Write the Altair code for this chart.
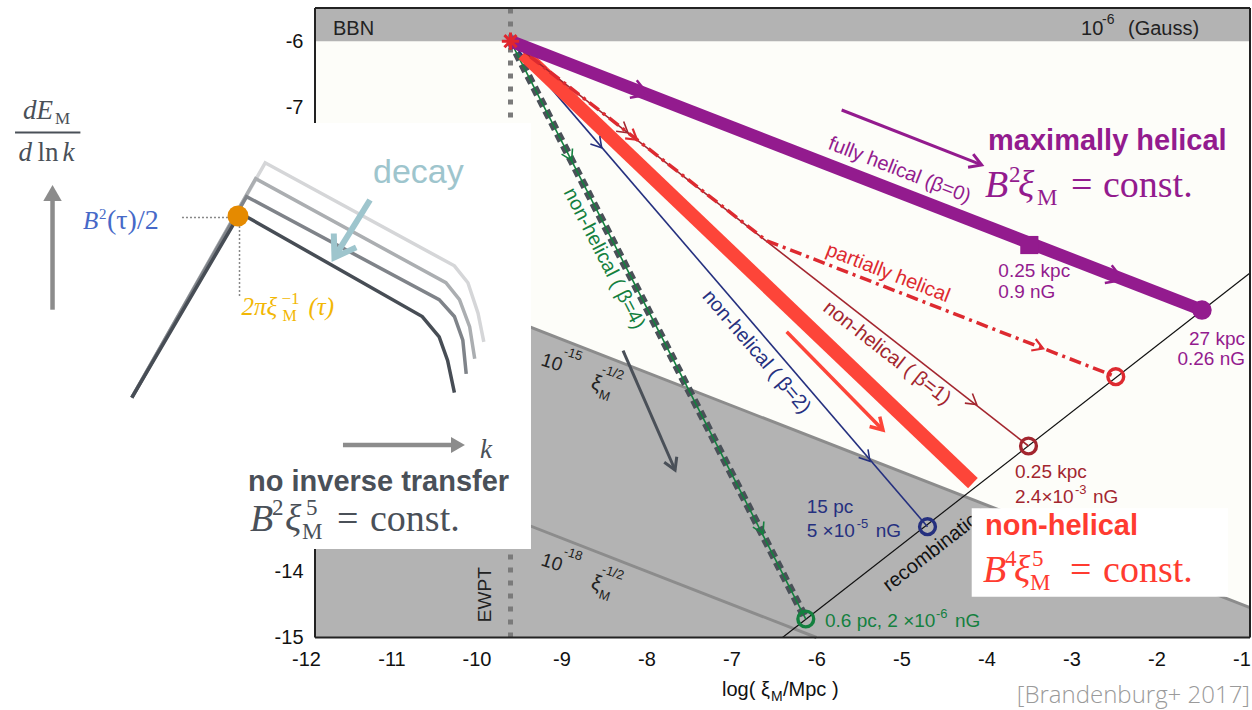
import altair as alt
import pandas as pd

# ---------------- axis frame (log xi_M / Mpc , log B / Gauss) ----------------
x_domain = [-11.9, -0.9]
y_domain = [-15.0, -5.5]
x_ticks = [-11, -10, -9, -8, -7, -6, -5, -4, -3, -2, -1]
x_edge_tick = [-12]
y_ticks = [-15, -14, -7, -6]   # -8 ... -13 lie under the inset panel

# ---------------- evolution tracks ----------------
purple_x = [-9.6, -1.465]
purple_y = [-6.0, -10.058]
red_x = [-9.45, -4.16]
red_y = [-6.19, -12.67]
beta1_x = [-9.6, -3.506]
beta1_y = [-6.0, -12.11]
partial_x = [-9.6, -6.59, -2.479]
partial_y = [-6.0, -9.01, -11.064]
beta2_x = [-9.6, -4.694]
beta2_y = [-6.0, -13.328]
beta4_x = [-9.6, -6.126]
beta4_y = [-6.0, -14.721]
recomb_x = [-6.4, -0.9]
recomb_y = [-15.0, -9.5]
ewpt_x = [-9.6, -9.6]
ewpt_y = [-15.0, -5.5]
bbn_x = [-11.9, -0.9]
bbn_y = [-6.0, -5.5]
b15_x = [-11.9, -0.9]
b15_y = [-9.05, -14.55]
b18_x = [-11.9, -6.0]
b18_y = [-12.05, -15.0]

# end markers
start_pt = [-9.6, -6.0]
sq_pt = [-3.496, -9.077]
fullcirc_pt = [-1.465, -10.058]
open_red = [-2.479, -11.064]
open_darkred = [-3.506, -12.11]
open_navy = [-4.694, -13.328]
open_green = [-6.126, -14.721]

# direction chevrons on tracks
chev_purple_x = [-7.982, -2.394]
chev_purple_y = [-6.809, -9.603]
chev_b1_x = [-8.218, -4.115]
chev_b1_y = [-7.382, -11.485]
chev_part1 = [-8.112, -7.488]
chev_part2 = [-3.335, -10.638]
chev_b2_x = [-8.527, -5.371]
chev_b2_y = [-7.61, -12.34]
chev_b4_x = [-8.88, -6.629]
chev_b4_y = [-7.8, -13.43]

# annotation arrows (start, end)
arr_purple = [-5.704, -7.039, -4.057, -7.869]
arr_red = [-6.351, -10.385, -5.218, -11.869]
arr_slate = [-8.276, -10.672, -7.664, -12.472]

# ---------------- inset: schematic spectra dE/dlnk vs k ----------------
inset_box = [-15.61, -7.236, -9.359, -13.665]
spec1_x = [-14.055, -12.782, -10.638, -10.439, -10.340, -10.260]
spec1_y = [-11.380, -8.594, -10.156, -10.462, -10.818, -11.303]
spec2_x = [-14.055, -12.705, -10.439, -10.260, -10.161, -10.121]
spec2_y = [-11.380, -8.346, -9.901, -10.156, -10.512, -11.022]
spec3_x = [-14.055, -12.598, -10.360, -10.200, -10.081, -10.021]
spec3_y = [-11.380, -8.075, -9.646, -9.901, -10.308, -10.793]
spec4_x = [-14.055, -12.486, -10.260, -10.101, -9.982, -9.914]
spec4_y = [-11.380, -7.836, -9.391, -9.646, -10.105, -10.538]
peak_pt = [-12.806, -8.639]

# ---------------- colours / fonts ----------------
PURPLE = "#931b8e"
RED = "#fd4539"
CRIMSON = "#dd2a30"
DARKRED = "#a3262f"
NAVY = "#25307f"
GREEN = "#14803f"
SLATE = "#4a5058"
GRAYFILL = "#b3b3b3"
GRAYLINE = "#8c8c8c"
SANS = "Liberation Sans"
SERIF = "Liberation Serif"

XS = alt.Scale(domain=x_domain, nice=False, zero=False)
YS = alt.Scale(domain=y_domain, nice=False, zero=False)
XAXIS = alt.Axis(values=x_ticks, title=None, grid=False, domain=False, ticks=False, tickSize=0,
                 labelPadding=12, labelFontSize=20, labelFont=SANS, labelColor="#111",
                 labelExpr="'' + datum.value", labelFlush=False, labelOverlap=False,
                 labelBound=False, zindex=0)
YAXIS = alt.Axis(values=y_ticks, title=None, grid=False, domain=False, ticks=False, tickSize=0,
                 labelPadding=12, labelFontSize=20, labelFont=SANS, labelColor="#111",
                 labelExpr="'' + datum.value", labelFlush=False, labelOverlap=False,
                 labelBound=False, zindex=0)


def ex(f="x"):
    return alt.X(f"{f}:Q", scale=XS, axis=XAXIS)


def ey(f="y"):
    return alt.Y(f"{f}:Q", scale=YS, axis=YAXIS)


def line(xv, yv, color, width, dash=None, cap="butt"):
    df = pd.DataFrame({"x": xv, "y": yv, "i": list(range(len(xv)))})
    kw = dict(color=color, strokeWidth=width, strokeCap=cap, clip=False)
    if dash:
        kw["strokeDash"] = dash
    return alt.Chart(df).mark_line(**kw).encode(x=ex(), y=ey(), order="i:Q")


def seg(a, color, width, dash=None, cap="butt"):
    return line([a[0], a[2]], [a[1], a[3]], color, width, dash, cap)


def pts(xv, yv, shape, color, size, filled=True, sw=1.0, angle=0):
    df = pd.DataFrame({"x": xv, "y": yv})
    return alt.Chart(df).mark_point(shape=shape, size=size, filled=filled, color=color,
                                    opacity=1, strokeWidth=sw, angle=angle,
                                    clip=False).encode(x=ex(), y=ey())


CHEV = "M-1,-0.6L0,0L-1,0.6"


def chev(xv, yv, color, angle, size=420, sw=1.6):
    return pts(xv, yv, CHEV, color, size, filled=False, sw=sw, angle=angle)


def txt(s, x, y, color, size, font=SANS, align="left", baseline="alphabetic", angle=0,
        dx=0, dy=0, weight="normal", style="normal"):
    df = pd.DataFrame({"x": [x], "y": [y], "t": [s]})
    return alt.Chart(df).mark_text(align=align, baseline=baseline, angle=angle, dx=dx, dy=dy,
                                   fontSize=size, font=font, fontWeight=weight,
                                   fontStyle=style, color=color, clip=False).encode(
        x=ex(), y=ey(), text="t:N")


def formula(pieces, x, y, color, font=SERIF):
    out = []
    for s, dx, dy, size, style in pieces:
        out.append(txt(s, x, y, color, size, font=font, dx=dx, dy=dy, style=style))
    return out


def rect(x0, y0, x1, y1, color):
    df = pd.DataFrame({"x": [x0], "y": [y0], "x2": [x1], "y2": [y1]})
    return alt.Chart(df).mark_rect(color=color, clip=False).encode(
        x=ex(), y=ey(), x2="x2:Q", y2="y2:Q")


layers = []
# background bands
layers.append(rect(bbn_x[0], bbn_y[0], bbn_x[1], bbn_y[1], GRAYFILL))
area_df = pd.DataFrame({"x": b15_x, "y": b15_y, "y2": [-15.0, -15.0]})
layers.append(alt.Chart(area_df).mark_area(color=GRAYFILL, opacity=1).encode(
    x=ex(), y=ey(), y2="y2:Q"))
layers.append(line(b15_x, b15_y, GRAYLINE, 3))
layers.append(line(b18_x, b18_y, GRAYLINE, 3))
layers.append(line(ewpt_x, ewpt_y, "#7a7a7a", 5, dash=[5, 8]))
layers.append(line(recomb_x, recomb_y, "#111", 1.2))

# edge tick label (-12 sits just left of the frame)
for v in x_edge_tick:
    layers.append(txt(str(v), v, y_domain[0], "#111", 20, align="center", baseline="top", dy=12))

# labels in grey region
for base_x, base_y, exp in [(-9.253, -10.888, "-15"), (-9.253, -13.906, "-18")]:
    layers.append(txt("10", base_x, base_y, "#222", 19, angle=18))
    layers.append(txt(exp, base_x + 0.271, base_y + 0.151, "#222", 13, angle=18))
    layers.append(txt("ξ", base_x + 0.588, base_y - 0.347, "#222", 21, angle=18))
    layers.append(txt("-1/2", base_x + 0.718, base_y - 0.12, "#222", 13, angle=18))
    layers.append(txt("M", base_x + 0.682, base_y - 0.498, "#222", 13, angle=18))
layers.append(txt("EWPT", -9.9, -14.354, "#222", 19, align="center", baseline="middle", angle=270))
layers.append(txt("recombination", -5.36, -13.96, "#111", 20, baseline="top", angle=322.1, dy=14))

# slate arrow
layers.append(seg(arr_slate, SLATE, 3))
layers.append(chev([arr_slate[2]], [arr_slate[3]], SLATE, 66.4, size=520, sw=3))

# tracks
layers.append(line(beta4_x, beta4_y, SLATE, 8, dash=[8, 5]))
layers.append(line(beta4_x, beta4_y, GREEN, 1.6))
layers.append(line(beta2_x, beta2_y, NAVY, 1.6))
layers.append(line(red_x, red_y, RED, 14))
layers.append(line(beta1_x, beta1_y, DARKRED, 1.6))
layers.append(line(partial_x, partial_y, CRIMSON, 3.5, dash=[12, 5, 3, 5]))
layers.append(line(purple_x, purple_y, PURPLE, 12.5))

# chevrons
layers.append(chev(chev_purple_x, chev_purple_y, PURPLE, 21.3, size=1000, sw=2.5))
layers.append(chev(chev_b1_x, chev_b1_y, DARKRED, 37.9))
layers.append(chev([chev_part1[0]], [chev_part1[1]], CRIMSON, 37.9, sw=2.2))
layers.append(chev([chev_part2[0]], [chev_part2[1]], CRIMSON, 21.3, sw=2.2))
layers.append(chev(chev_b2_x, chev_b2_y, NAVY, 49.5))
layers.append(chev(chev_b4_x, chev_b4_y, GREEN, 62.8))

# annotation arrows
layers.append(seg(arr_purple, PURPLE, 3))
layers.append(chev([arr_purple[2]], [arr_purple[3]], PURPLE, 21.4, size=560, sw=3))
layers.append(seg(arr_red, RED, 3.5))
layers.append(chev([arr_red[2]], [arr_red[3]], RED, 45.6, size=560, sw=3.5))

# end markers
layers.append(pts([sq_pt[0]], [sq_pt[1]], "square", PURPLE, 330))
layers.append(pts([fullcirc_pt[0]], [fullcirc_pt[1]], "circle", PURPLE, 380))
for p, c in [(open_red, CRIMSON), (open_darkred, DARKRED), (open_navy, NAVY), (open_green, GREEN)]:
    layers.append(pts([p[0]], [p[1]], "circle", c, 250, filled=False, sw=3.4))
layers.append(pts([start_pt[0]], [start_pt[1]],
                  "M0,-1L0,1M-1,0L1,0M-0.7,-0.7L0.7,0.7M-0.7,0.7L0.7,-0.7",
                  "#e0262e", 300, filled=False, sw=3))

# top band labels
layers.append(txt("BBN", -11.688, -5.907, "#222", 20))
layers.append(txt("10", -2.888, -5.907, "#222", 20))
layers.append(txt("-6", -2.641, -5.741, "#222", 14))
layers.append(txt("(Gauss)", -2.335, -5.907, "#222", 20))

# track labels
layers.append(txt("maximally helical", -3.982, -7.643, PURPLE, 29, weight="bold"))
layers += formula([("B", 0, 0, 38, "italic"), ("2", 24, -15, 23, "normal"),
                   ("ξ", 33, 0, 38, "italic"), ("M", 52, 8, 23, "normal"),
                   ("=", 86, 0, 38, "normal"), ("const.", 118, 0, 38, "normal")],
                  -4.018, -8.352, PURPLE)
layers.append(txt("fully helical (β=0)", -5.112, -8.244, PURPLE, 20, align="center",
                  baseline="middle", angle=21.3, dy=-21))
layers.append(txt("partially helical", -5.219, -9.696, CRIMSON, 20, align="center",
                  baseline="middle", angle=21.3, dy=-14))
layers.append(txt("non-helical ( β=1)", -5.066, -10.534, DARKRED, 20, align="center",
                  baseline="middle", angle=37.9, dy=14.5))
layers.append(txt("non-helical ( β=2)", -6.572, -10.542, NAVY, 20, align="center",
                  baseline="middle", angle=49.5, dy=15))
layers.append(txt("non-helical ( β=4)", -8.33, -9.17, GREEN, 20, align="center",
                  baseline="middle", angle=62.8, dy=16))

layers.append(txt("0.25 kpc", -3.861, -9.555, PURPLE, 19))
layers.append(txt("0.9 nG", -3.861, -9.881, PURPLE, 19))
layers.append(txt("27 kpc", -0.959, -10.586, PURPLE, 19, align="right"))
layers.append(txt("0.26 nG", -0.959, -10.888, PURPLE, 19, align="right"))

layers.append(txt("0.25 kpc", -3.665, -12.598, DARKRED, 19))
layers.append(txt("2.4×10", -3.665, -12.975, DARKRED, 19))
layers.append(txt("-3", -3.665, -12.975, DARKRED, 13, dx=60, dy=-9))
layers.append(txt("nG", -3.665, -12.975, DARKRED, 19, dx=78))

layers.append(txt("15 pc", -6.115, -13.126, NAVY, 19))
layers.append(txt("5 ×10", -6.115, -13.479, NAVY, 19))
layers.append(txt("-5", -6.115, -13.479, NAVY, 13, dx=50, dy=-9))
layers.append(txt("nG", -6.115, -13.479, NAVY, 19, dx=69))

layers.append(txt("0.6 pc, 2 ×10", -5.9, -14.837, GREEN, 19))
layers.append(txt("-6", -5.9, -14.837, GREEN, 13, dx=111, dy=-9))
layers.append(txt("nG", -5.9, -14.837, GREEN, 19, dx=130))

# frame
layers.append(line([x_domain[0], x_domain[1]], [y_domain[1], y_domain[1]], "#222", 2))
layers.append(line([x_domain[0], x_domain[1]], [y_domain[0], y_domain[0]], "#222", 2))
layers.append(line([x_domain[0], x_domain[0]], [y_domain[0], y_domain[1]], "#222", 2))
layers.append(line([x_domain[1], x_domain[1]], [y_domain[0], y_domain[1]], "#222", 2))

# non-helical box
layers.append(rect(-4.174, -13.05, -1.159, -14.385, "#ffffff"))
layers.append(txt("non-helical", -4.018, -13.454, "#ff3b30", 29, weight="bold"))
layers += formula([("B", 0, 0, 38, "italic"), ("4", 22, -16, 23, "normal"),
                   ("ξ", 31, 0, 38, "italic"), ("5", 49, -16, 23, "normal"),
                   ("M", 47, 8, 23, "normal"), ("=", 87, 0, 38, "normal"),
                   ("const.", 120, 0, 38, "normal")],
                  -4.041, -14.163, "#ff3b30")

# inset diagram
layers.append(rect(inset_box[0], inset_box[1], inset_box[2], inset_box[3], "#ffffff"))
layers.append(txt("dE", -15.335, -7.175, SLATE, 27, font=SERIF, style="italic"))
layers.append(txt("M", -15.335, -7.175, SLATE, 17, font=SERIF, dx=32, dy=5))
layers.append(line([-15.429, -14.66], [-7.377, -7.377], SLATE, 2))
layers.append(txt("d", -15.387, -7.809, SLATE, 27, font=SERIF, style="italic"))
layers.append(txt("ln", -15.387, -7.809, SLATE, 27, font=SERIF, dx=19))
layers.append(txt("k", -15.387, -7.809, SLATE, 27, font=SERIF, style="italic", dx=44))
layers.append(line([-14.988, -14.988], [-10.053, -8.398], GRAYLINE, 4.5))
layers.append(pts([-14.988], [-8.292], "triangle-up", GRAYLINE, 340))
layers.append(line(spec4_x, spec4_y, "#d5d6d8", 3.5))
layers.append(line(spec3_x, spec3_y, "#abaeb1", 3.5))
layers.append(line(spec2_x, spec2_y, "#7f8389", 3.5))
layers.append(line(spec1_x, spec1_y, "#474d55", 3.5))
layers.append(line([-13.465, -12.924], [-8.662, -8.662], "#888", 1.5, dash=[2, 2]))
layers.append(line([-12.788, -12.788], [-8.73, -9.847], "#888", 1.5, dash=[2, 2]))
layers.append(pts([peak_pt[0]], [peak_pt[1]], "circle", "#e58a00", 440))
layers += formula([("B", 0, 0, 25, "italic"), ("2", 16, -10, 15, "normal"),
                   ("(τ)/2", 24, 0, 28, "normal")], -14.629, -8.829, "#4669c8")
layers += formula([("2πξ", 0, 0, 25, "italic"), ("−1", 40, -11, 17, "normal"),
                   ("M", 41, 6, 16, "normal"), ("(τ)", 67, 0, 25, "italic")],
                  -12.765, -10.133, "#f2b705")
layers.append(txt("decay", -11.218, -8.141, "#9ec5cd", 34))
layers.append(line([-11.253, -11.641], [-8.398, -9.198], "#9ec5cd", 6))
layers.append(pts([-11.671], [-9.264], "M-1,-0.66L0,0L-1,0.66", "#9ec5cd", 1600,
                  filled=False, sw=6, angle=121.8))
layers.append(line([-11.571, -10.288], [-12.095, -12.095], GRAYLINE, 4.5))
layers.append(pts([-10.218], [-12.095], "triangle-right", GRAYLINE, 260))
layers.append(txt("k", -9.959, -12.291, SLATE, 27, font=SERIF, style="italic"))
layers.append(txt("no inverse transfer", -12.688, -12.789, SLATE, 29, weight="bold"))
layers += formula([("B", 0, 0, 38, "italic"), ("2", 22, -16, 23, "normal"),
                   ("ξ", 35, 0, 38, "italic"), ("5", 56, -16, 23, "normal"),
                   ("M", 52, 8, 23, "normal"), ("=", 87, 0, 38, "normal"),
                   ("const.", 120, 0, 38, "normal")],
                  -12.665, -13.393, SLATE)

# axis title and citation
layers.append(txt("log( ξ", -7.112, -15.883, "#111", 20))
layers.append(txt("M", -7.112, -15.883, "#111", 14, dx=49, dy=5))
layers.append(txt("/Mpc )", -7.112, -15.883, "#111", 20, dx=61))
layers.append(txt("[Brandenburg+ 2017]", -0.9, -15.989, "#9a9a9a", 24, font="Open Sans",
                  align="right", weight=300))

chart = alt.layer(*layers).properties(
    width=935, height=629.5,
    autosize=alt.AutoSizeParams(type="none"),
    padding={"left": 315, "top": 8, "right": 2, "bottom": 72},
).configure_view(stroke=None, fill="#fdfdf9")

chart.save("out.html", embed_options={"renderer": "svg", "actions": False})
